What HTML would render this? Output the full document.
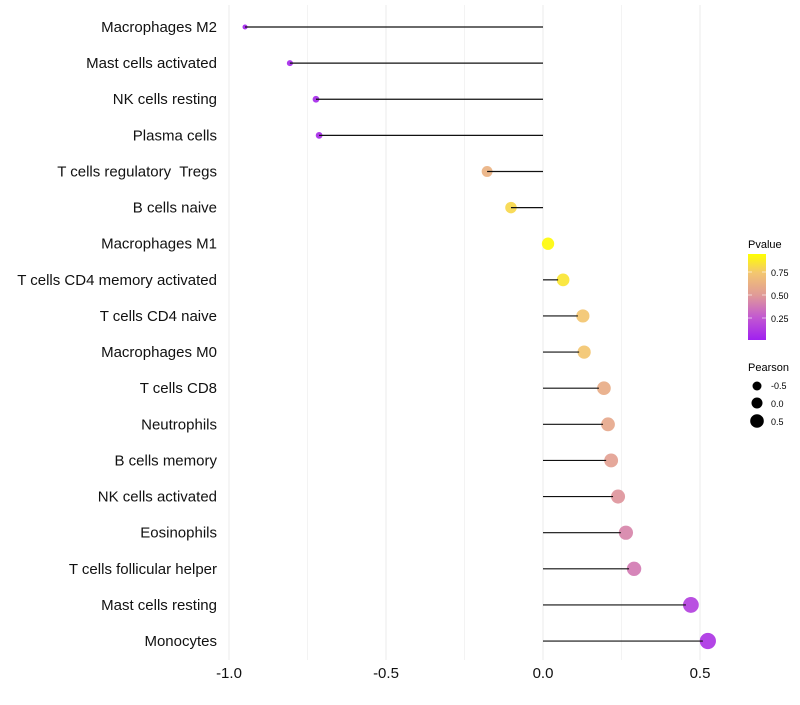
<!DOCTYPE html>
<html><head><meta charset="utf-8"><style>
body{margin:0;background:#fff;font-family:"Liberation Sans",sans-serif}
text{white-space:pre}
</style></head><body>
<svg id="chart" width="800" height="700" xmlns="http://www.w3.org/2000/svg" font-family="Liberation Sans, sans-serif">
<defs><linearGradient id="pg" x1="0" y1="1" x2="0" y2="0">
<stop offset="0" stop-color="#a020f0"/><stop offset="0.27" stop-color="#c35ad0"/><stop offset="0.52" stop-color="#e09a98"/><stop offset="0.78" stop-color="#f3c670"/><stop offset="1" stop-color="#ffff00"/></linearGradient></defs>
<g id="grid"></g><g id="marks"></g><g id="labels"></g>
<g>
<text x="748" y="248" font-size="11">Pvalue</text>
<rect x="748" y="254" width="18" height="86" fill="url(#pg)"/>
<line x1="748" x2="752" y1="272" y2="272" stroke="#fff" stroke-opacity=".6"/><line x1="762" x2="766" y1="272" y2="272" stroke="#fff" stroke-opacity=".6"/>
<line x1="748" x2="752" y1="295" y2="295" stroke="#fff" stroke-opacity=".6"/><line x1="762" x2="766" y1="295" y2="295" stroke="#fff" stroke-opacity=".6"/>
<line x1="748" x2="752" y1="318" y2="318" stroke="#fff" stroke-opacity=".6"/><line x1="762" x2="766" y1="318" y2="318" stroke="#fff" stroke-opacity=".6"/>
<text x="771" y="276" font-size="9">0.75</text><text x="771" y="299" font-size="9">0.50</text><text x="771" y="322" font-size="9">0.25</text>
</g>
<g>
<text x="748" y="371" font-size="11">Pearson</text>
<circle cx="757" cy="386" r="4.5"/><text x="771" y="389" font-size="9">-0.5</text>
<circle cx="757" cy="403" r="5.5"/><text x="771" y="407" font-size="9">0.0</text>
<circle cx="757" cy="421" r="6.8"/><text x="771" y="425" font-size="9">0.5</text>
</g>
</svg>
<script>
const categories=["Macrophages M2","Mast cells activated","NK cells resting","Plasma cells","T cells regulatory  Tregs","B cells naive","Macrophages M1","T cells CD4 memory activated","T cells CD4 naive","Macrophages M0","T cells CD8","Neutrophils","B cells memory","NK cells activated","Eosinophils","T cells follicular helper","Mast cells resting","Monocytes"];
const pearson=[-0.949,-0.806,-0.723,-0.713,-0.178,-0.102,0.016,0.064,0.127,0.131,0.194,0.207,0.217,0.239,0.264,0.290,0.471,0.525];
const pvalues=[0.02,0.05,0.05,0.06,0.66,0.85,0.98,0.9,0.78,0.78,0.63,0.6,0.56,0.5,0.44,0.4,0.15,0.1];
const ticks=[-1.0,-0.5,0.0,0.5];
const tickLabels=["-1.0","-0.5","0.0","0.5"];
const minorTicks=[-0.75,-0.25,0.25];
const NS="http://www.w3.org/2000/svg";
const x=v=>543+v*314;
const y=i=>27+i*36.12;
const r=v=>2.5+(v+0.95)*3.8;
const stops=[[0,[160,32,240]],[0.27,[195,90,208]],[0.52,[224,154,152]],[0.78,[243,198,112]],[1,[255,255,0]]];
function col(p){for(let k=1;k<stops.length;k++){if(p<=stops[k][0]){const a=stops[k-1],b=stops[k],t=(p-a[0])/(b[0]-a[0]);return "rgb("+a[1].map((c,j)=>Math.round(c+(b[1][j]-c)*t)).join(",")+")";}}return "rgb(255,255,0)";}
function mk(t,attrs,parent){const e=document.createElementNS(NS,t);for(const k in attrs)e.setAttribute(k,attrs[k]);document.getElementById(parent).appendChild(e);return e;}
minorTicks.forEach(v=>{const l=mk("line",{x1:x(v),x2:x(v),y1:5,y2:660,stroke:"#f3f3f3","stroke-width":1},"grid");

});
ticks.forEach((v,i)=>{const l=mk("line",{x1:x(v),x2:x(v),y1:5,y2:660,stroke:"#ebebeb","stroke-width":1},"grid");


const t=mk("text",{x:x(v),y:678,"font-size":15,"text-anchor":"middle",fill:"#111"},"labels");t.textContent=tickLabels[i];

});
categories.forEach((c,i)=>{
const t=mk("text",{x:217,y:y(i)+5,"font-size":15,"text-anchor":"end",fill:"#111"},"labels");t.textContent=c;


const v=pearson[i];
const pt=mk("circle",{cx:x(v),cy:y(i),r:r(v),fill:col(pvalues[i]),"fill-opacity":0.92},"marks");


const end=v>0?x(v)-Math.min(5,x(v)-x(0)):x(v);
const ln=mk("line",{x1:x(0),x2:end,y1:y(i),y2:y(i),stroke:"#111","stroke-width":1.2},"marks");


});
</script>
</body></html>
